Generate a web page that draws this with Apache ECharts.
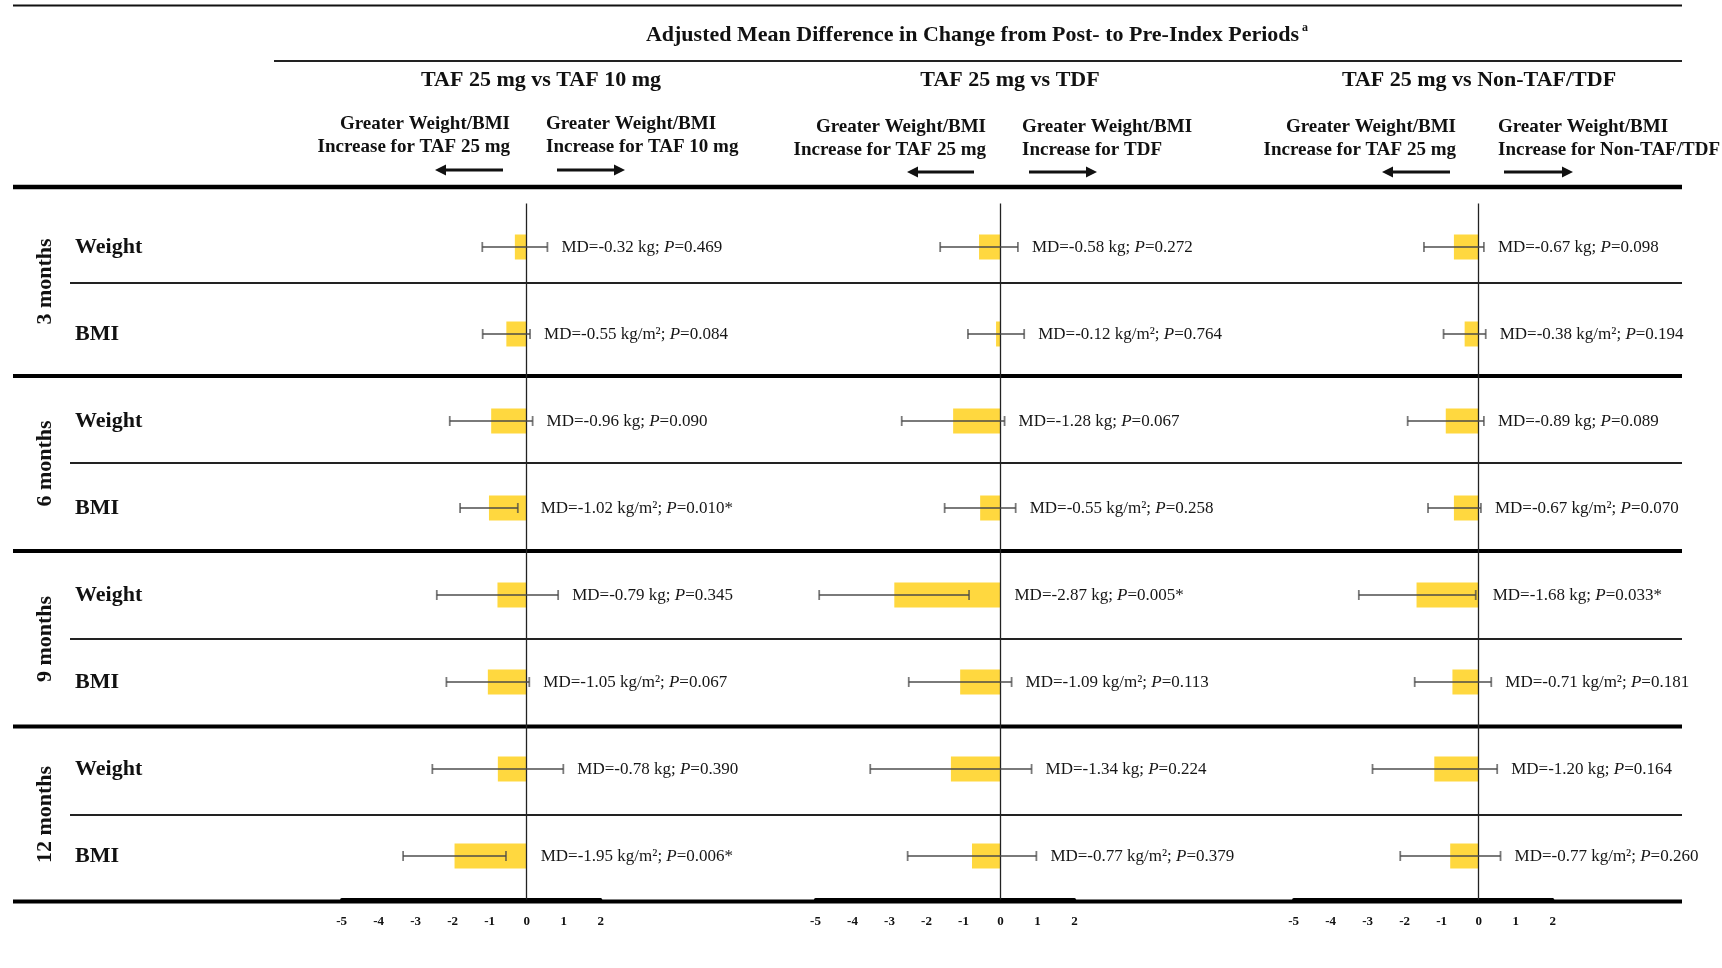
<!DOCTYPE html>
<html>
<head>
<meta charset="utf-8">
<script src="https://cdn.jsdelivr.net/npm/echarts@6/dist/echarts.min.js"></script>
<style>
  html, body { margin: 0; padding: 0; background: #ffffff; }
  #chart { width: 1722px; height: 968px; }
</style>
</head>
<body>
<div id="chart"></div>
<script>
// ---- data ----
const periods = ['3 months', '6 months', '9 months', '12 months'];
const measures = ['Weight', 'BMI'];
const units = ['kg', 'kg/m²'];
const rowKeys = ['3m-Weight', '3m-BMI', '6m-Weight', '6m-BMI', '9m-Weight', '9m-BMI', '12m-Weight', '12m-BMI'];

const comparisonTitles = ['TAF 25 mg vs TAF 10 mg', 'TAF 25 mg vs TDF', 'TAF 25 mg vs Non-TAF/TDF'];
const comparators = ['TAF 10 mg', 'TDF', 'Non-TAF/TDF'];

const xMin = -5;
const xMax = 2;
const xStep = 1;

// TAF 25 mg vs TAF 10 mg
const mdTaf10 = [-0.32, -0.55, -0.96, -1.02, -0.79, -1.05, -0.78, -1.95];
const ciLowTaf10 = [-1.20, -1.19, -2.08, -1.80, -2.43, -2.17, -2.55, -3.34];
const ciHighTaf10 = [0.56, 0.09, 0.16, -0.24, 0.85, 0.07, 0.99, -0.56];
const pTaf10 = ['0.469', '0.084', '0.090', '0.010', '0.345', '0.067', '0.390', '0.006'];

// TAF 25 mg vs TDF
const mdTdf = [-0.58, -0.12, -1.28, -0.55, -2.87, -1.09, -1.34, -0.77];
const ciLowTdf = [-1.63, -0.88, -2.67, -1.51, -4.90, -2.48, -3.52, -2.51];
const ciHighTdf = [0.47, 0.64, 0.11, 0.41, -0.85, 0.30, 0.84, 0.97];
const pTdf = ['0.272', '0.764', '0.067', '0.258', '0.005', '0.113', '0.224', '0.379'];

// TAF 25 mg vs Non-TAF/TDF
const mdOther = [-0.67, -0.38, -0.89, -0.67, -1.68, -0.71, -1.20, -0.77];
const ciLowOther = [-1.48, -0.95, -1.92, -1.37, -3.24, -1.73, -2.87, -2.12];
const ciHighOther = [0.14, 0.19, 0.14, 0.06, -0.08, 0.34, 0.50, 0.59];
const pOther = ['0.098', '0.194', '0.089', '0.070', '0.033', '0.181', '0.164', '0.260'];

const panels = [
  { md: mdTaf10, lo: ciLowTaf10, hi: ciHighTaf10, p: pTaf10 },
  { md: mdTdf, lo: ciLowTdf, hi: ciHighTdf, p: pTdf },
  { md: mdOther, lo: ciLowOther, hi: ciHighOther, p: pOther }
];

// ---- layout & style ----
const SERIF = '"Liberation Serif", "Times New Roman", serif';
const BAR_COLOR = '#FFD83F';
const ERR_COLOR = 'rgba(70,70,70,0.72)';
const layout = {
  gridTop: 203.5,
  gridHeight: 696,
  gridLefts: [341.7, 815.5, 1293.7],
  gridWidth: 259,
  titleCenters: [541, 1010, 1479],
  dirLeftEdge: [510, 986, 1456],
  dirRightEdge: [546, 1022, 1498],
  dirY: [113, 116, 116],
  arrowY: [170, 172, 172],
  arrowLeft: [[435, 503], [907, 974], [1382, 1450]],
  arrowRight: [[557, 625], [1029, 1097], [1504, 1573]],
  groupCenters: [281.5, 463.5, 639, 814.5],
  thickRules: [376, 551, 726.5, 901.5],
  thinRules: [283, 463, 639, 815]
};

function mdLabel(panel, i) {
  const md = panel.md[i];
  const unit = units[i % 2];
  const sig = parseFloat(panel.p[i]) < 0.05 ? '*' : '';
  return '{n|MD=' + md.toFixed(2) + ' ' + unit + '; }{i|P}{n|=' + panel.p[i] + sig + '}';
}

const grids = [], xAxes = [], yAxes = [], series = [];
panels.forEach((panel, k) => {
  grids.push({
    left: layout.gridLefts[k], top: layout.gridTop,
    width: layout.gridWidth, height: layout.gridHeight,
    containLabel: false
  });
  xAxes.push({
    type: 'value', gridIndex: k, min: xMin, max: xMax, interval: xStep,
    axisLine: { show: true, onZero: false, lineStyle: { color: '#000', width: 3 } },
    axisTick: { show: false },
    splitLine: { show: false },
    axisLabel: { color: '#111', fontFamily: SERIF, fontWeight: 'bold', fontSize: 13, margin: 16 }
  });
  yAxes.push({
    type: 'category', gridIndex: k, data: rowKeys, inverse: true,
    axisLine: { show: false, onZero: false },
    axisTick: { show: false },
    splitLine: { show: false },
    axisLabel: k === 0 ? {
      show: true, align: 'left', margin: layout.gridLefts[0] - 75,
      color: '#111', fontFamily: SERIF, fontWeight: 'bold', fontSize: 22,
      formatter: (v, idx) => measures[idx % 2]
    } : { show: false }
  });
  series.push({
    type: 'bar', xAxisIndex: k, yAxisIndex: k,
    data: panel.md, barWidth: 25,
    itemStyle: { color: BAR_COLOR },
    z: 2,
    markLine: {
      silent: true, symbol: 'none',
      label: { show: false },
      lineStyle: { color: '#222', width: 1.3, type: 'solid' },
      data: [{ xAxis: 0 }]
    }
  });
  series.push({
    type: 'custom', xAxisIndex: k, yAxisIndex: k, clip: false, z: 5,
    encode: { x: [0, 1], y: 2 },
    data: panel.lo.map((lo, i) => [lo, panel.hi[i], i]),
    renderItem: (params, api) => {
      const row = api.value(2);
      const a = api.coord([api.value(0), row]);
      const b = api.coord([api.value(1), row]);
      const zx = api.coord([0, row])[0];
      const y = a[1];
      const ls = { stroke: ERR_COLOR, lineWidth: 1.8 };
      return {
        type: 'group',
        children: [
          { type: 'line', shape: { x1: a[0], y1: y, x2: b[0], y2: y }, style: ls },
          { type: 'line', shape: { x1: a[0], y1: y - 5, x2: a[0], y2: y + 5 }, style: ls },
          { type: 'line', shape: { x1: b[0], y1: y - 5, x2: b[0], y2: y + 5 }, style: ls },
          {
            type: 'text', x: Math.max(b[0], zx) + 14, y: y + 1,
            style: {
              text: mdLabel(panel, params.dataIndex),
              align: 'left', verticalAlign: 'middle',
              fill: '#111',
              rich: {
                n: { fontFamily: SERIF, fontSize: 17, fill: '#161616' },
                i: { fontFamily: SERIF, fontSize: 17, fontStyle: 'italic', fill: '#161616' }
              }
            }
          }
        ]
      };
    }
  });
});

// ---- table rules, headers and annotations ----
const graphic = [];
function hline(y, x1, x2, w, color) {
  graphic.push({ type: 'line', silent: true, z: 1,
    shape: { x1: x1, y1: y, x2: x2, y2: y },
    style: { stroke: color || '#000', lineWidth: w } });
}
hline(5.5, 13, 1682, 2, '#111');
hline(61, 274, 1682, 2, '#222');
hline(187, 13, 1682, 4.5, '#000');
layout.thickRules.forEach(y => hline(y, 13, 1682, 4, '#000'));
layout.thinRules.forEach(y => hline(y, 70, 1682, 2, '#222'));

graphic.push({
  type: 'text', x: 977, y: 35, silent: true,
  style: {
    text: '{t|Adjusted Mean Difference in Change from Post- to Pre-Index Periods}{s|a}',
    align: 'center', verticalAlign: 'middle',
    rich: {
      t: { fontFamily: SERIF, fontWeight: 'bold', fontSize: 22, fill: '#111', lineHeight: 26 },
      s: { fontFamily: SERIF, fontWeight: 'bold', fontSize: 12, fill: '#111', verticalAlign: 'top', lineHeight: 26, padding: [0, 0, 10, 3] }
    }
  }
});

comparisonTitles.forEach((t, k) => {
  graphic.push({
    type: 'text', x: layout.titleCenters[k], y: 80, silent: true,
    style: { text: t, align: 'center', verticalAlign: 'middle',
      fontFamily: SERIF, fontWeight: 'bold', fontSize: 22, fill: '#111' }
  });
  const dirStyle = { fontFamily: SERIF, fontWeight: 'bold', fontSize: 19, fill: '#111', lineHeight: 22.5 };
  graphic.push({
    type: 'text', x: layout.dirLeftEdge[k], y: layout.dirY[k], silent: true,
    style: Object.assign({ text: 'Greater Weight/BMI\nIncrease for TAF 25 mg', align: 'right', verticalAlign: 'top' }, dirStyle)
  });
  graphic.push({
    type: 'text', x: layout.dirRightEdge[k], y: layout.dirY[k], silent: true,
    style: Object.assign({ text: 'Greater Weight/BMI\nIncrease for ' + comparators[k], align: 'left', verticalAlign: 'top' }, dirStyle)
  });
  // direction arrows
  const ay = layout.arrowY[k];
  const [l1, l2] = layout.arrowLeft[k];
  const [r1, r2] = layout.arrowRight[k];
  graphic.push({ type: 'line', silent: true, shape: { x1: l1 + 8, y1: ay, x2: l2, y2: ay }, style: { stroke: '#111', lineWidth: 3 } });
  graphic.push({ type: 'polygon', silent: true, shape: { points: [[l1, ay], [l1 + 11, ay - 5.5], [l1 + 11, ay + 5.5]] }, style: { fill: '#111' } });
  graphic.push({ type: 'line', silent: true, shape: { x1: r1, y1: ay, x2: r2 - 8, y2: ay }, style: { stroke: '#111', lineWidth: 3 } });
  graphic.push({ type: 'polygon', silent: true, shape: { points: [[r2, ay], [r2 - 11, ay - 5.5], [r2 - 11, ay + 5.5]] }, style: { fill: '#111' } });
});

periods.forEach((p, g) => {
  graphic.push({
    type: 'text', x: 45.5, y: layout.groupCenters[g], rotation: Math.PI / 2, silent: true,
    style: { text: p, align: 'center', verticalAlign: 'middle',
      fontFamily: SERIF, fontWeight: 'bold', fontSize: 22, fill: '#111' }
  });
});

const chart = echarts.init(document.getElementById('chart'), null, { renderer: 'canvas' });
chart.setOption({
  backgroundColor: '#ffffff',
  animation: false,
  grid: grids,
  xAxis: xAxes,
  yAxis: yAxes,
  series: series,
  graphic: graphic
});
</script>
</body>
</html>
